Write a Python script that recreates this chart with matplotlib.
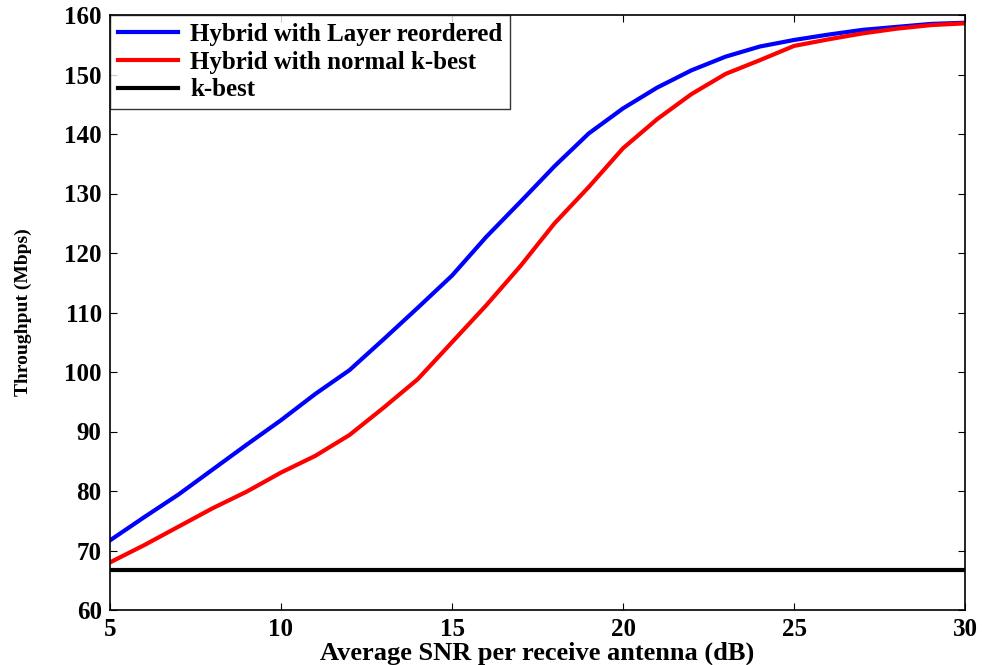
import numpy as np
import matplotlib
matplotlib.use("Agg")
import matplotlib.pyplot as plt

snr = list(range(5, 31))
layer_reordered = [71.7, 75.6, 79.4, 83.6, 87.8, 91.9, 96.3, 100.3, 105.5, 110.8,
                   116.2, 122.7, 128.6, 134.6, 140.1, 144.3, 147.8, 150.7, 153.0, 154.7,
                   155.8, 156.7, 157.5, 158.0, 158.5, 158.7]
normal_kbest = [68.0, 70.9, 74.0, 77.1, 79.9, 83.1, 85.9, 89.4, 94.0, 98.8,
                105.0, 111.2, 117.8, 125.0, 131.1, 137.6, 142.5, 146.7, 150.1, 152.4,
                154.8, 155.9, 156.9, 157.7, 158.3, 158.6]
kbest = [66.8] * len(snr)

labels = ["Hybrid with Layer reordered", "Hybrid with normal k-best", "k-best"]
colors = ["#0000ff", "#ff0000", "#000000"]

plt.rcParams['font.family'] = ['Liberation Serif', 'DejaVu Serif']
plt.rcParams['font.weight'] = 'bold'

fig = plt.figure(figsize=(9.85, 6.65), dpi=100)
ax = fig.add_axes([110/985, 55/665, 855/985, 595/665])

for y, lab, c in zip([layer_reordered, normal_kbest, kbest], labels, colors):
    ax.plot(snr, y, color=c, lw=3, label=lab)

ax.set_xlim(5, 30)
ax.set_ylim(60, 160)
ax.set_xticks(np.arange(5, 31, 5))
ax.set_yticks(np.arange(60, 161, 10))
ax.tick_params(direction='in', top=True, right=True, length=5, width=0.8,
               labelsize=18)
ax.tick_params(axis='x', pad=6)
ax.tick_params(axis='y', pad=6)
for lab in ax.get_xticklabels() + ax.get_yticklabels():
    lab.set_fontweight('bold')
for s in ax.spines.values():
    s.set_linewidth(1.2)

ax.set_xlabel("Average SNR per receive antenna (dB)", fontsize=19, fontweight='bold', labelpad=0)
ax.set_ylabel("Throughput (Mbps)", fontsize=14, fontweight='bold')
ax.yaxis.set_label_coords(-0.091, 0.5)

leg = ax.legend(loc='upper left', fontsize=18, frameon=True, fancybox=False,
                borderaxespad=0, handlelength=2.4, labelspacing=0.2,
                borderpad=0.3, handletextpad=0.5)
leg.get_frame().set_edgecolor('black')
leg.get_frame().set_linewidth(1.0)
for t in leg.get_texts():
    t.set_fontweight('bold')

fig.savefig("out.png", dpi=100)
